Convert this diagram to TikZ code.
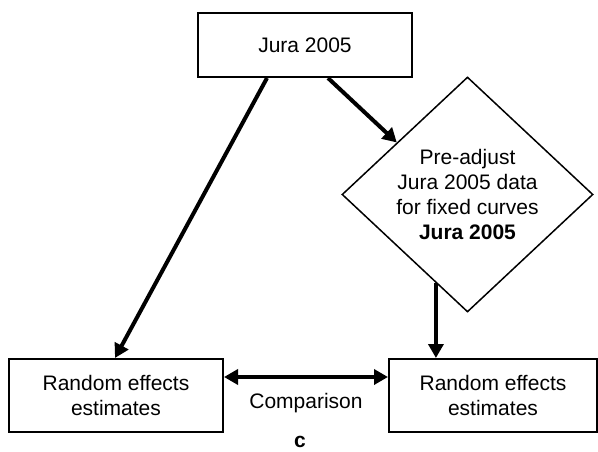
\documentclass[tikz,border=0pt]{standalone}
\usepackage{fontspec}
\setmainfont{Liberation Sans}
\usetikzlibrary{positioning,calc}
\usetikzlibrary{arrows.meta,shapes.geometric}
\tikzstyle{flowbox}=[draw, line width=2pt, rectangle, inner sep=0pt, align=center]
\tikzstyle{decision}=[draw, line width=1.5pt, diamond, inner sep=0pt, align=center]
\tikzstyle{link}=[line width=4pt]

\begin{document}
\begin{tikzpicture}[x=1pt, y=-1pt, >={Triangle[length=14pt,width=15pt]},
    font=\fontsize{21}{25}\selectfont]
    \useasboundingbox (0,0) rectangle (598,452);

    \node [flowbox, minimum width=214pt, minimum height=64pt] (jura) at (305,45) {Jura 2005};
    \node [decision, minimum width=251pt, minimum height=235pt] (adjust) at (467.5,194.5)
        {Pre-adjust\\Jura 2005 data\\for fixed curves\\\textbf{Jura 2005}};
    \node [flowbox, minimum width=214pt, minimum height=73pt] (rawest) at (116,395.5)
        {Random effects\\estimates};
    \node [flowbox, minimum width=208pt, minimum height=73pt] (adjest) at (493,395.5)
        {Random effects\\estimates};

    \coordinate (adjin)  at ($(adjust.west)!0.44!(adjust.north)$);
    \coordinate (adjout) at ($(adjust.west)!0.75!(adjust.south)$);

    \draw [->, link] (jura.south -| 267,0) -- (rawest.north -| 115,0);
    \draw [->, link] (jura.south -| 328,0) -- (adjin);
    \draw [->, link] (adjout) -- (adjest.north -| adjout);
    \draw [<->, link] ([yshift=18.5pt]rawest.east) -- node[below=11pt] (cmp) {Comparison}
        ([yshift=18.5pt]adjest.west);

    \node [inner sep=0pt, font=\fontsize{21}{21}\selectfont\bfseries] (panel) at (300,442) {c};

\end{tikzpicture}
\end{document}
